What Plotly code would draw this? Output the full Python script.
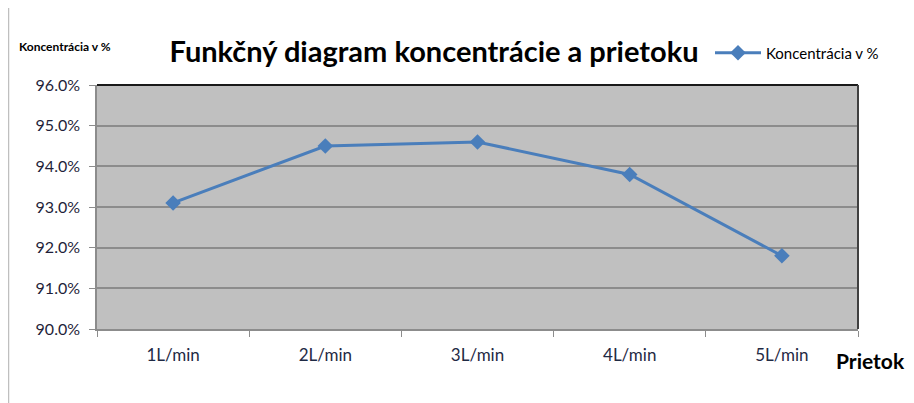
import plotly.graph_objects as go

categories = ["1L/min", "2L/min", "3L/min", "4L/min", "5L/min"]
concentration = [0.931, 0.945, 0.946, 0.938, 0.918]
series_name = "Koncentrácia v %"
y_ticks = [0.90, 0.91, 0.92, 0.93, 0.94, 0.95, 0.96]

OFF = 8  # page body margin
W, H = 914 - OFF, 403 - OFF
# plot area in page pixels: x 97..858, y 85..329
L, R, T, B = 97 - OFF, W - (858 - OFF), 85 - OFF, H - (329 - OFF)
PW, PH = W - L - R, H - T - B
FONT = "Lato, 'Open Sans', sans-serif"


def px(x):
    return (x - OFF - L) / PW


def py(y):
    return (H - B - (y - OFF)) / PH


fig = go.Figure()
fig.add_trace(go.Scatter(
    x=categories, y=concentration, name=series_name, mode="lines+markers",
    line=dict(color="#4A7EBB", width=3),
    marker=dict(symbol="diamond", size=12, color="#4A7EBB"),
))

fig.update_layout(
    width=W, height=H, autosize=False,
    margin=dict(l=L, r=R, t=T, b=B, autoexpand=False),
    paper_bgcolor="white", plot_bgcolor="#C0C0C0",
    font=dict(family=FONT, color="#1F1F3A"),
    title=dict(text="<b>Funkčný diagram koncentrácie a prietoku</b>",
               x=(434 - OFF) / W, xanchor="center", y=1 - (52 - OFF) / H, yanchor="middle",
               xref="container", yref="container",
               font=dict(size=29, color="black", family=FONT)),
    showlegend=True,
    legend=dict(x=px(710), xanchor="left", y=py(53), yanchor="middle",
                xref="paper", yref="paper",
                font=dict(size=15, color="black", family=FONT),
                bgcolor="rgba(0,0,0,0)", itemwidth=46),
    xaxis=dict(type="category", range=[-0.5, len(categories) - 0.5],
               showline=True, linecolor="#8C8C8C", linewidth=1.5,
               mirror=False, ticks="outside", ticklen=6, tickcolor="#8C8C8C",
               tickson="boundaries", showgrid=False, automargin=False,
               ticklabelstandoff=10,
               tickfont=dict(size=17, color="#1F2A44")),
    yaxis=dict(range=[0.90, 0.96], tickvals=y_ticks, tickformat=".1%",
               showgrid=True, gridcolor="#8C8C8C", gridwidth=1.5,
               showline=True, linecolor="#8C8C8C", linewidth=1.5,
               ticks="outside", ticklen=6, tickcolor="#8C8C8C", automargin=False,
               ticklabelstandoff=6,
               zeroline=False, tickfont=dict(size=16, color="#1F1F3A")),
)

# plot-area border: dark top and right edges
fig.add_shape(type="line", xref="paper", yref="paper", x0=0, x1=1, y0=1, y1=1,
              line=dict(color="#1A1A1A", width=2))
fig.add_shape(type="line", xref="paper", yref="paper", x0=1, x1=1, y0=0, y1=1,
              line=dict(color="#404040", width=2))

# page-edge rule on the left
fig.add_shape(type="line", xref="paper", yref="paper",
              x0=px(8.5), x1=px(8.5), y0=py(403), y1=py(8),
              line=dict(color="#BFBFBF", width=1.5))

fig.add_annotation(text="<b>Koncentrácia v %</b>", xref="paper", yref="paper",
                   x=px(17), y=py(47), xanchor="left", yanchor="middle",
                   showarrow=False, font=dict(size=12, color="black", family=FONT))
fig.add_annotation(text="<b>Prietok</b>", xref="paper", yref="paper",
                   x=px(834), y=py(360), xanchor="left", yanchor="middle",
                   showarrow=False, font=dict(size=21, color="black", family=FONT))

fig.write_html("out.html")
